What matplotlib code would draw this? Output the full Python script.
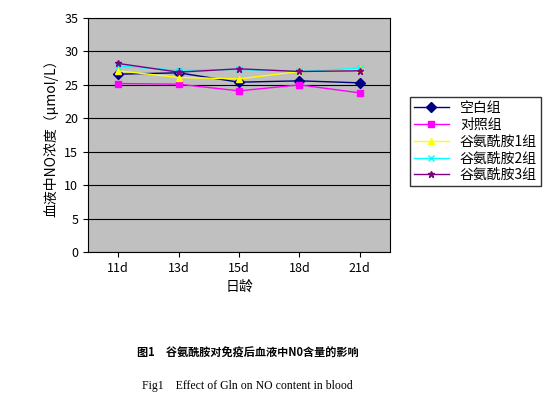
import matplotlib.pyplot as plt

plt.rcParams['font.family'] = ['Noto Sans CJK SC', 'DejaVu Sans']

days = ['11d', '13d', '15d', '18d', '21d']
blank = [26.6, 26.8, 25.4, 25.6, 25.3]
control = [25.2, 25.1, 24.1, 25.0, 23.8]
gln1 = [27.1, 26.1, 25.9, 27.0, 27.4]
gln2 = [27.8, 27.2, 27.3, 27.0, 27.5]
gln3 = [28.2, 26.9, 27.4, 27.0, 27.1]

series = [
    ('空白组', blank, '#000080', 'D'),
    ('对照组', control, '#FF00FF', 's'),
    ('谷氨酰胺1组', gln1, '#FFFF00', '^'),
    ('谷氨酰胺2组', gln2, '#00FFFF', 'x'),
    ('谷氨酰胺3组', gln3, '#800080', '*'),
]

fig = plt.figure(figsize=(5.5, 4.08), dpi=100)
ax = fig.add_axes([88 / 550, 1 - 252 / 408, 302 / 550, 234 / 408])
ax.set_facecolor('#C0C0C0')
x = range(len(days))
for name, vals, col, mk in series:
    ax.plot(x, vals, color=col, marker=mk, markersize=5, linewidth=1, label=name)

ax.set_xlim(-0.5, 4.5)
ax.set_ylim(0, 35)
ax.set_yticks(range(0, 36, 5))
ax.yaxis.grid(True, color='black', linewidth=0.8)
ax.set_axisbelow(True)
ax.set_xticks(list(x))
ax.set_xticklabels(days)
ax.tick_params(labelsize=9)
ax.set_xlabel('日龄', fontsize=10)
ax.set_ylabel('血液中NO浓度（μmol/L）', fontsize=10)

fig.legend(loc='upper left', bbox_to_anchor=(403 / 550, 1 - 90 / 408),
           fontsize=10, frameon=True, fancybox=False, edgecolor='black',
           handlelength=2.5, borderpad=0.3, labelspacing=0.2)

fig.text(0.45, 1 - 357 / 408, '图1　谷氨酰胺对免疫后血液中N0含量的影响',
         ha='center', fontsize=8, weight='bold')
fig.text(0.45, 1 - 389 / 408, 'Fig1    Effect of Gln on NO content in blood',
         ha='center', fontsize=8.5, family='Liberation Serif')

fig.savefig('out.png', dpi=100)
